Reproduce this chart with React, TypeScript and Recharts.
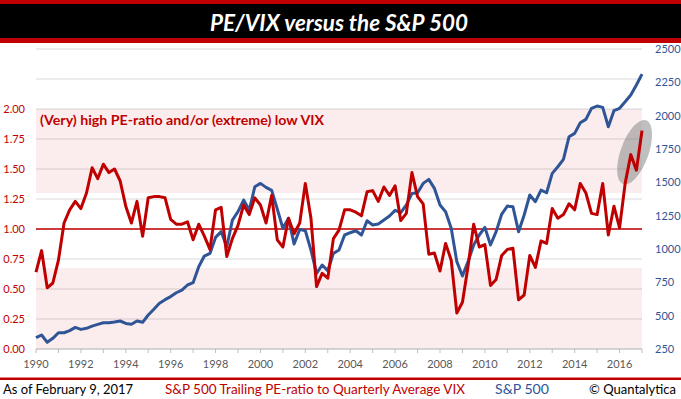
import React from "react";
import {
  LineChart,
  Line,
  XAxis,
  YAxis,
  CartesianGrid,
  ReferenceArea,
  ReferenceLine,
} from "recharts";

const RED = "#C00000";
const BLUE = "#2F5597";
const FONT = "Lato, 'Open Sans', sans-serif";

const START_YEAR = 1990;

// S&P 500 trailing PE-ratio divided by quarterly average VIX (quarterly, 1990 Q1 .. 2017 Q1)
const peVix = [
  0.64, 0.82, 0.51, 0.55,
  0.74, 1.05, 1.16, 1.23,
  1.17, 1.3, 1.51, 1.42,
  1.54, 1.47, 1.5, 1.4,
  1.19, 1.05, 1.23, 0.94,
  1.26, 1.27, 1.27, 1.26,
  1.08, 1.04, 1.04, 1.06,
  0.91, 1.04, 0.94, 0.83,
  1.16, 1.18, 0.77, 0.92,
  1.03, 1.2, 1.12, 1.26,
  1.2, 1.05, 1.28, 0.91,
  0.85, 1.09, 0.96, 1.05,
  1.38, 1.09, 0.52, 0.63,
  0.59, 0.92, 0.99, 1.16,
  1.16, 1.14, 1.11, 1.31,
  1.32, 1.23, 1.35, 1.28,
  1.36, 1.07, 1.13, 1.47,
  1.27, 1.21, 0.79, 0.8,
  0.65, 0.88, 0.74, 0.3,
  0.39, 0.69, 1.04, 0.85,
  0.87, 0.53, 0.58, 0.78,
  0.83, 0.84, 0.41, 0.45,
  0.78, 0.68, 0.9, 0.88,
  1.17, 1.09, 1.12, 1.21,
  1.16, 1.38, 1.3, 1.13,
  1.12, 1.38, 0.95, 1.19,
  1.01, 1.38, 1.62, 1.49,
  1.82,
];

// S&P 500 index level (quarterly)
const sp500 = [
  335, 355, 300, 330,
  372, 372, 388, 412,
  397, 405, 422, 435,
  447, 447, 452, 460,
  442, 435, 460, 450,
  505, 548, 593, 620,
  643, 672, 692, 730,
  747, 867, 947, 967,
  1087, 1130, 1017, 1217,
  1280, 1367, 1292, 1467,
  1492, 1462, 1440, 1300,
  1155, 1230, 1037, 1147,
  1137, 992, 817, 880,
  837, 967, 992, 1105,
  1122, 1137, 1105, 1212,
  1180, 1187, 1217, 1247,
  1290, 1272, 1330, 1417,
  1422, 1492, 1522, 1455,
  1330, 1280, 1155, 905,
  797, 905, 1030, 1105,
  1162, 1030, 1130, 1262,
  1322, 1317, 1130, 1255,
  1405, 1355, 1442, 1422,
  1567, 1617, 1672, 1842,
  1867, 1947, 1972, 2055,
  2072, 2062, 1917, 2037,
  2055, 2105, 2155, 2230,
  2312,
];

const leftTicks = [0, 0.25, 0.5, 0.75, 1, 1.25, 1.5, 1.75, 2, 2.25, 2.5];
const rightTicks = [250, 500, 750, 1000, 1250, 1500, 1750, 2000, 2250, 2500];
const yearTicks = [
  1990, 1991, 1992, 1993, 1994, 1995, 1996, 1997, 1998, 1999, 2000, 2001, 2002, 2003,
  2004, 2005, 2006, 2007, 2008, 2009, 2010, 2011, 2012, 2013, 2014, 2015, 2016, 2017,
];

// Zones and highlight (bounding box of the highlight ellipse, in data units)
const highZone = [1.3, 2.0];
const lowZone = [0, 0.675];
const highlightX = [2016.05, 2017.29];
const highlightY = [1.357, 1.923];

const data = peVix.map((v, i) => ({
  t: START_YEAR + i / 4,
  pe: v,
  sp: sp500[i],
}));

const EllipseShape = (p: any) => {
  const cx = p.x + p.width / 2;
  const cy = p.y + p.height / 2;
  return (
    <ellipse
      cx={cx}
      cy={cy}
      rx={Math.abs(p.width) / 2}
      ry={Math.abs(p.height) / 2}
      transform={`rotate(20 ${cx} ${cy})`}
      fill="#808080"
      fillOpacity={0.5}
    />
  );
};

export default function App() {
  return (
    <div
      style={{
        position: "absolute",
        left: 0,
        top: 0,
        width: 681,
        height: 399,
        background: "#fff",
        fontFamily: FONT,
      }}
    >
      <LineChart
        width={681}
        height={399}
        data={data}
        margin={{ top: 49, right: 0, bottom: 30, left: 0 }}
      >
        <CartesianGrid yAxisId="left" vertical={false} stroke="#D9D9D9" />
        <ReferenceArea
          yAxisId="left"
          y1={highZone[0]}
          y2={highZone[1]}
          fill={RED}
          fillOpacity={0.07}
          stroke="none"
        />
        <ReferenceArea
          yAxisId="left"
          y1={lowZone[0]}
          y2={lowZone[1]}
          fill={RED}
          fillOpacity={0.07}
          stroke="none"
        />
        <ReferenceArea
          yAxisId="left"
          x1={highlightX[0]}
          x2={highlightX[1]}
          y1={highlightY[0]}
          y2={highlightY[1]}
          ifOverflow="visible"
          shape={EllipseShape}
        />
        <XAxis
          dataKey="t"
          type="number"
          domain={[1990, 2017]}
          ticks={yearTicks}
          interval={0}
          height={20}
          tickSize={4}
          tickMargin={7}
          stroke="#BFBFBF"
          tick={{ fill: "#595959", fontSize: 11, fontFamily: FONT }}
          tickFormatter={(v: number) => (v % 2 === 0 && v < 2017 ? String(v) : "")}
        />
        <YAxis
          yAxisId="left"
          orientation="left"
          width={36}
          domain={[0, 2.5]}
          ticks={leftTicks}
          interval={0}
          axisLine={false}
          tickLine={false}
          tickSize={0}
          tickMargin={11}
          tick={{ fill: RED, fontSize: 11, fontFamily: FONT }}
          tickFormatter={(v: number) => (v <= 2 ? v.toFixed(2) : "")}
        />
        <YAxis
          yAxisId="right"
          orientation="right"
          width={39}
          domain={[250, 2500]}
          ticks={rightTicks}
          interval={0}
          axisLine={false}
          tickLine={false}
          tickSize={0}
          tickMargin={13}
          tick={{ fill: BLUE, fontSize: 11, fontFamily: FONT }}
        />
        <ReferenceLine yAxisId="left" y={1} stroke={RED} strokeWidth={1.5} />
        <Line
          yAxisId="right"
          dataKey="sp"
          stroke={BLUE}
          strokeWidth={3}
          dot={false}
          isAnimationActive={false}
          strokeLinejoin="round"
        />
        <Line
          yAxisId="left"
          dataKey="pe"
          stroke={RED}
          strokeWidth={3}
          dot={false}
          isAnimationActive={false}
          strokeLinejoin="round"
        />
      </LineChart>
      <svg
        width={681}
        height={399}
        style={{ position: "absolute", left: 0, top: 0, pointerEvents: "none" }}
        fontFamily={FONT}
      >
        <rect x={0} y={0} width={681} height={4} fill={RED} />
        <rect x={0} y={4} width={681} height={34} fill="#000" />
        <rect x={0} y={38} width={681} height={5} fill={RED} />
        <text
          x={339}
          y={31}
          fill="#fff"
          fontSize={22}
          fontWeight="bold"
          fontStyle="italic"
          textAnchor="middle"
          textLength={258}
          lengthAdjust="spacingAndGlyphs"
        >
          PE/VIX versus the S&amp;P 500
        </text>
        <text
          x={40}
          y={125}
          fill={RED}
          fontSize={13}
          fontWeight="bold"
          textLength={284}
          lengthAdjust="spacingAndGlyphs"
        >
          (Very) high PE-ratio and/or (extreme) low VIX
        </text>
        <rect x={0} y={377.5} width={681} height={2.5} fill={RED} />
        <text x={3} y={394} fill="#000" fontSize={14} textLength={130} lengthAdjust="spacingAndGlyphs">
          As of February 9, 2017
        </text>
        <text x={165} y={394} fill={RED} fontSize={14} textLength={300} lengthAdjust="spacingAndGlyphs">
          S&amp;P 500 Trailing PE-ratio to Quarterly Average VIX
        </text>
        <text x={495} y={394} fill={BLUE} fontSize={14} textLength={54} lengthAdjust="spacingAndGlyphs">
          S&amp;P 500
        </text>
        <text x={676} y={394} fill="#000" fontSize={13} textAnchor="end">
          © Quantalytica
        </text>
      </svg>
    </div>
  );
}
